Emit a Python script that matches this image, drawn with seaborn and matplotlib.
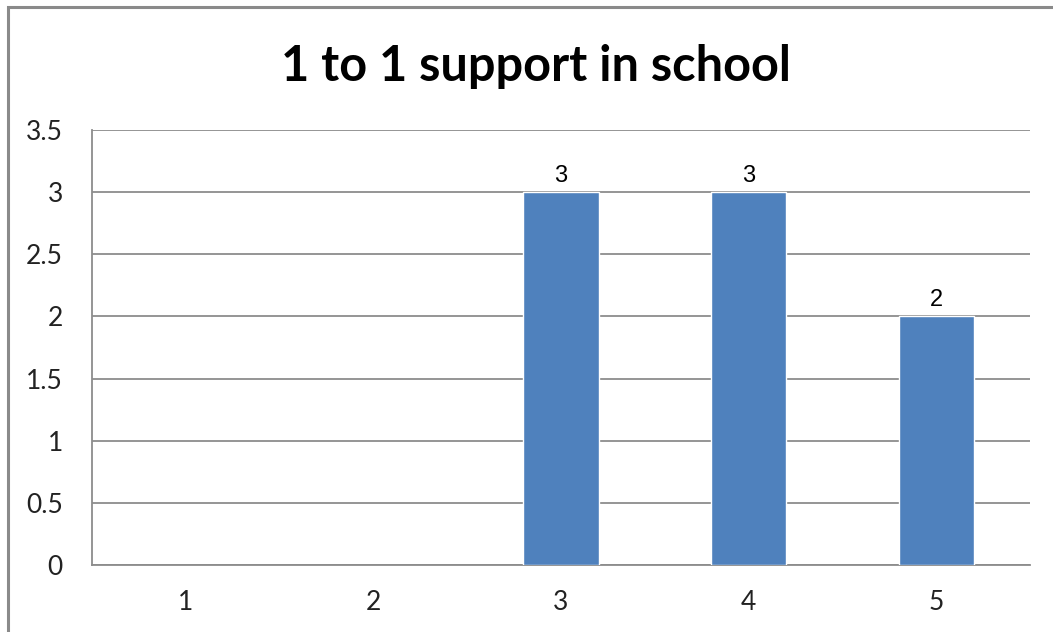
import numpy as np
import pandas as pd
import matplotlib
matplotlib.use("Agg")
import matplotlib.pyplot as plt
import seaborn as sns
from matplotlib.patches import Rectangle

# Responses per rating; ratings 1 and 2 received no answers
ratings = ["1", "2", "3", "4", "5"]
counts = [np.nan, np.nan, 3, 3, 2]
title = "1 to 1 support in school"
y_ticks = [0, 0.5, 1, 1.5, 2, 2.5, 3, 3.5]
y_tick_labels = ["0", "0.5", "1", "1.5", "2", "2.5", "3", "3.5"]

df = pd.DataFrame({"rating": ratings, "count": counts})

sns.set_theme(style="white")
plt.rcParams["font.family"] = ["Lato", "DejaVu Sans"]

fig = plt.figure(figsize=(10.53, 6.32), dpi=100)
ax = fig.add_axes([92 / 1053, 1 - 565 / 632, (1030 - 92) / 1053, (565 - 130) / 632])

sns.barplot(data=df, x="rating", y="count", order=ratings, color="#4F81BD",
            saturation=1, width=0.4, ax=ax, errorbar=None, zorder=3)

ax.set_ylim(0, 3.5)
ax.set_xlim(-0.5, len(ratings) - 0.5)
ax.set_yticks(y_ticks)
ax.set_yticklabels(y_tick_labels)
ax.yaxis.grid(True, color="#8c8c8c", linewidth=1.3)
ax.set_axisbelow(True)
ax.set_xlabel("")
ax.set_ylabel("")
ax.tick_params(axis="both", length=0, labelsize=19, colors="#222222")
ax.tick_params(axis="y", pad=21)
ax.tick_params(axis="x", pad=18)

for side in ["top", "right"]:
    ax.spines[side].set_visible(False)
ax.spines["left"].set_color("#8c8c8c")
ax.spines["left"].set_linewidth(1.3)
ax.spines["bottom"].set_color("#8c8c8c")
ax.spines["bottom"].set_linewidth(1.3)

# Value labels above bars that have data
for container in ax.containers:
    labels = []
    for v in container.datavalues:
        labels.append("" if np.isnan(v) else f"{v:g}")
    ax.bar_label(container, labels=labels, padding=4, fontsize=17,
                 family=["Liberation Sans", "DejaVu Sans"], color="#000000")

fig.text(536 / 1053, 1 - 81 / 632, title, ha="center", va="baseline",
         fontsize=35, fontweight="bold", color="#000000")

# Chart frame
fig.patches.append(Rectangle((8 / 1053, -0.1), 1.2, 1 - 7 / 632 + 0.1,
                             transform=fig.transFigure, fill=False,
                             edgecolor="#8a8a8a", linewidth=2.2))

fig.savefig("out.png", dpi=100, facecolor="white")
